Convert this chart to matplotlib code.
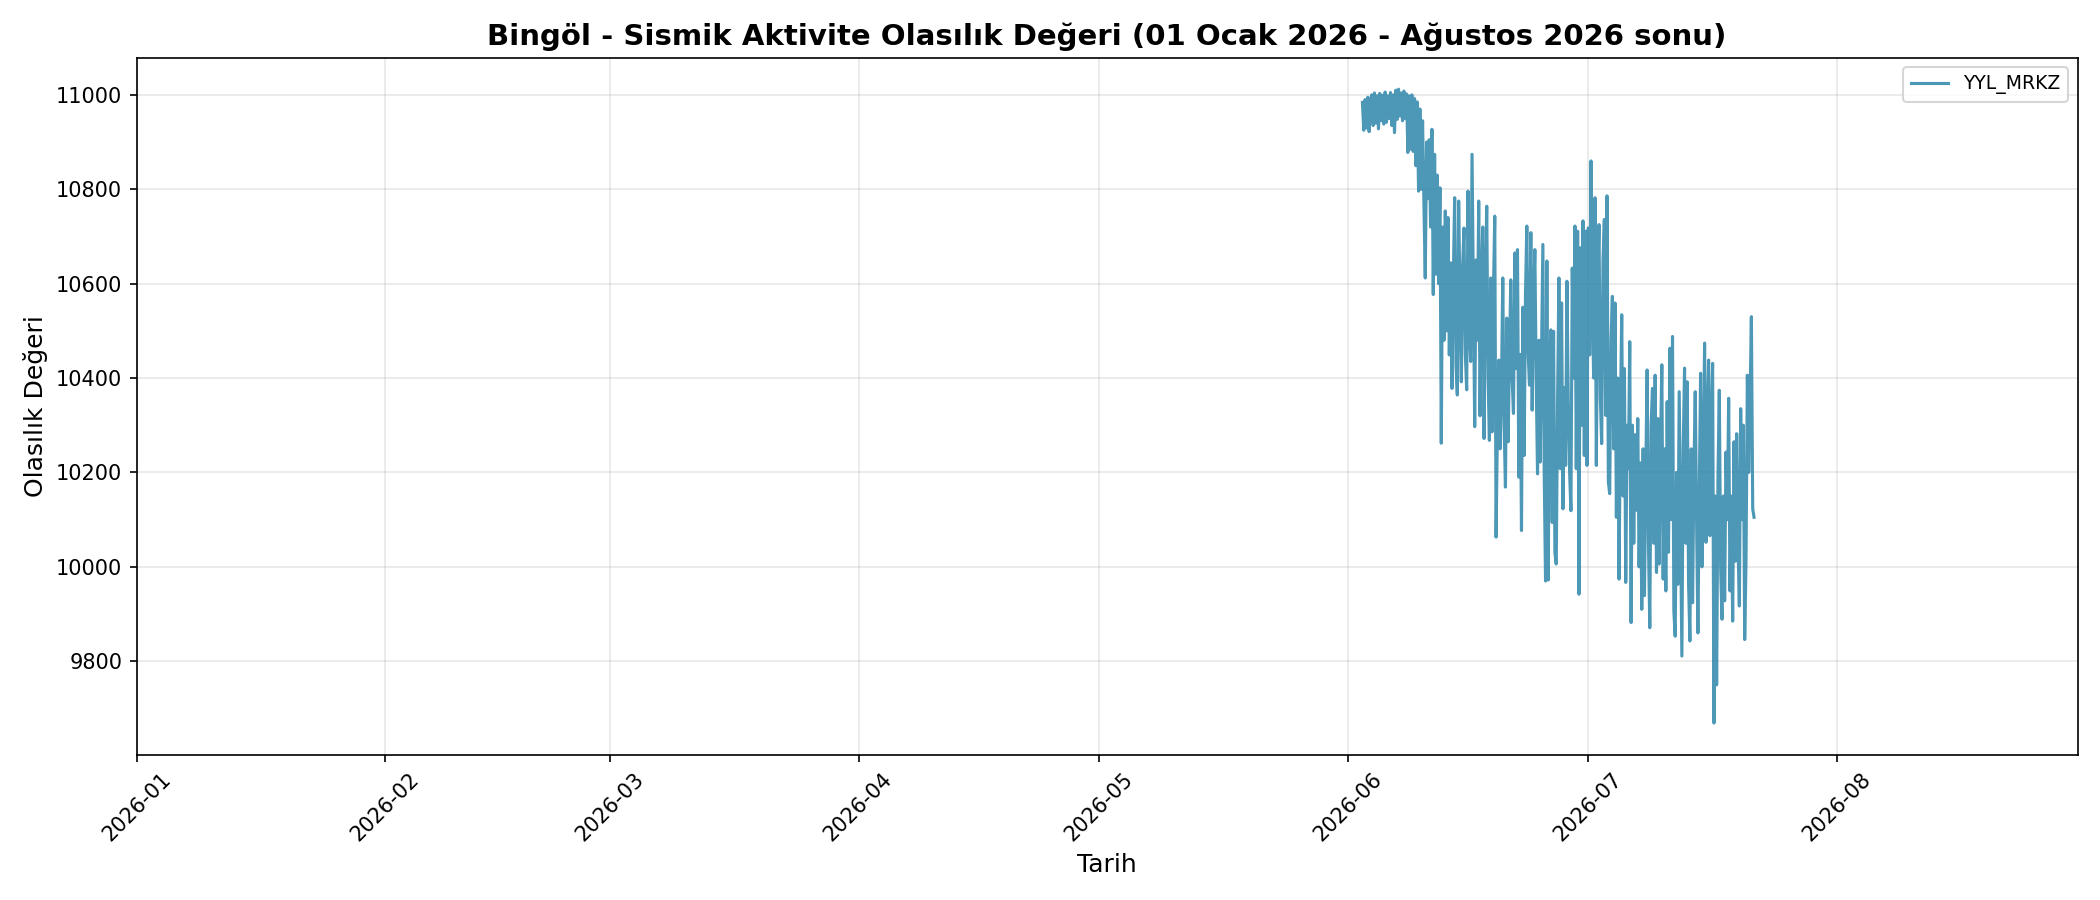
import matplotlib
matplotlib.use("Agg")
import matplotlib.pyplot as plt
import matplotlib.dates as mdates
import pandas as pd

series_name = "YYL_MRKZ"
start_time = "2026-06-02 20:00"
step = "4h"

values = [
    10984,
    10925, 10990, 10930, 10995, 10922, 10988,
    11000, 10935, 11004, 10940, 10998, 10928,
    11003, 10945, 10999, 10938, 11006, 10942,
    10998, 10950, 11005, 10935, 11000, 10920,
    11010, 10948, 11012, 10955, 11004, 10945,
    11008, 10950, 11002, 10878, 10998, 10885,
    11000, 10880, 10992, 10850, 10985, 10796,
    10970, 10800, 10945, 10770, 10612, 10900,
    10780, 10905, 10720, 10927, 10577, 10874,
    10620, 10830, 10600, 10803, 10262, 10720,
    10480, 10754, 10500, 10740, 10449, 10644,
    10378, 10610, 10782, 10430, 10364, 10775,
    10560, 10392, 10640, 10718, 10450, 10375,
    10796, 10500, 10435, 10874, 10580, 10297,
    10650, 10480, 10775, 10320, 10600, 10720,
    10272, 10610, 10764, 10400, 10268, 10612,
    10286, 10580, 10743, 10063, 10300, 10438,
    10250, 10380, 10612, 10300, 10169, 10527,
    10265, 10450, 10608, 10400, 10325, 10665,
    10420, 10672, 10190, 10450, 10077, 10550,
    10236, 10580, 10722, 10450, 10385, 10708,
    10332, 10560, 10672, 10400, 10197, 10480,
    10222, 10450, 10683, 10200, 9970, 10648,
    9972, 10420, 10502, 10094, 10499, 10030,
    10006, 10350, 10612, 10208, 10559, 10123,
    10380, 10215, 10605, 10350, 10200, 10119,
    10633, 10400, 10722, 10208, 10711, 9942,
    10676, 10300, 10733, 10236, 10711, 10215,
    10718, 10449, 10860, 10550, 10400, 10782,
    10215, 10600, 10725, 10357, 10261, 10650,
    10736, 10321, 10786, 10180, 10155, 10480,
    10573, 10250, 10559, 10105, 10400, 9974,
    10321, 10534, 10150, 10420, 9967, 10300,
    10208, 10477, 9882, 10300, 10050, 10280,
    10120, 10314, 10000, 10220, 9910, 10250,
    9939, 10200, 10417, 10050, 9871, 10300,
    10378, 10050, 10406, 9988, 10314, 10006,
    10250, 10428, 9974, 10250, 9949, 10350,
    10031, 10463, 10100, 10488, 9906, 9853,
    10200, 9963, 10371, 10100, 9811, 10250,
    10421, 10050, 10392, 9967, 9843, 10250,
    9924, 10200, 10371, 10100, 9860, 10150,
    10410, 10000, 10220, 10474, 10052, 10300,
    10438, 10066, 10300, 10431, 9669, 10150,
    9750, 10186, 10374, 10000, 9889, 10150,
    9928, 10243, 10100, 10357, 9949, 10150,
    9885, 10265, 10012, 10282, 10050, 9917,
    10335, 10100, 10300, 9846, 10015, 10406,
    10200, 10350, 10530, 10123, 10105,
]

times = pd.date_range(start=start_time, periods=len(values), freq=step)

fig, ax = plt.subplots(figsize=(14, 6), dpi=150)
ax.plot(times, values, color="#2E86AB", alpha=0.85, linewidth=1.5, label=series_name)

ax.set_xlim(pd.Timestamp("2026-01-01"), pd.Timestamp("2026-08-31"))
ax.xaxis.set_major_locator(mdates.MonthLocator())
ax.xaxis.set_major_formatter(mdates.DateFormatter("%Y-%m"))
plt.setp(ax.get_xticklabels(), rotation=45)

ax.set_title("Bingöl - Sismik Aktivite Olasılık Değeri (01 Ocak 2026 - Ağustos 2026 sonu)",
             fontsize=14, fontweight="bold")
ax.set_xlabel("Tarih", fontsize=12)
ax.set_ylabel("Olasılık Değeri", fontsize=12)
ax.grid(True, alpha=0.3)
ax.legend(loc="upper right", fontsize=9)

fig.tight_layout()
fig.savefig("out.png", dpi=150)
